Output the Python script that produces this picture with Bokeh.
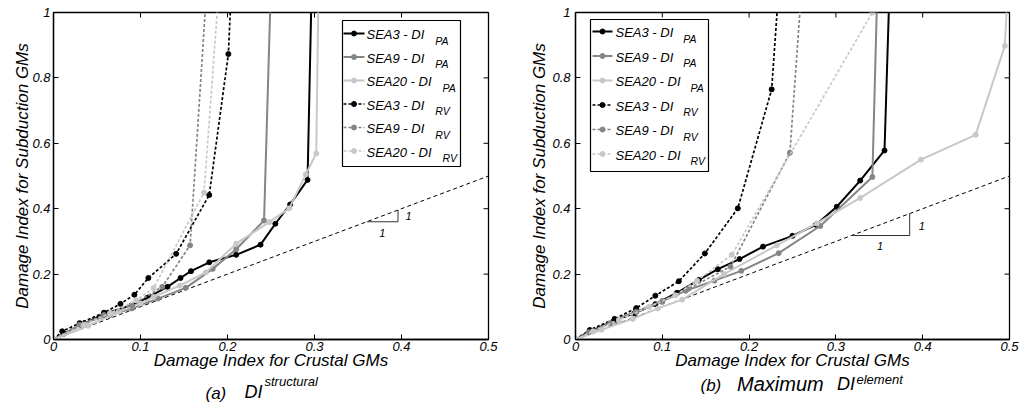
from bokeh.plotting import figure
from bokeh.layouts import row, column
from bokeh.models import Range1d, FixedTicker, Label
from bokeh.embed import file_html
from bokeh.resources import INLINE

# ---------------- data ----------------
x_ticks = [0, 0.1, 0.2, 0.3, 0.4, 0.5]
x_tick_labels = ["0", "0.1", "0.2", "0.3", "0.4", "0.5"]
y_ticks = [0, 0.2, 0.4, 0.6, 0.8, 1.0]
y_tick_labels = ["0", "0.2", "0.4", "0.6", "0.8", "1"]

ref_x = [0, 0.5]
ref_y = [0, 0.5]

# (a) DI structural
a_sea3_pa_x = [0, 0.012, 0.032, 0.058, 0.090, 0.108, 0.131, 0.146, 0.158, 0.179, 0.210, 0.238, 0.255, 0.272, 0.292, 0.2965]
a_sea3_pa_y = [0, 0.018, 0.045, 0.078, 0.105, 0.128, 0.161, 0.188, 0.209, 0.236, 0.259, 0.290, 0.354, 0.413, 0.488, 1.05]
a_sea9_pa_x = [0, 0.035, 0.065, 0.090, 0.120, 0.152, 0.183, 0.210, 0.242, 0.2495]
a_sea9_pa_y = [0, 0.050, 0.075, 0.095, 0.125, 0.158, 0.216, 0.276, 0.364, 1.05]
a_sea20_pa_x = [0, 0.040, 0.075, 0.100, 0.115, 0.145, 0.175, 0.210, 0.248, 0.271, 0.290, 0.302, 0.3045]
a_sea20_pa_y = [0, 0.042, 0.085, 0.110, 0.130, 0.165, 0.205, 0.293, 0.359, 0.401, 0.505, 0.569, 1.05]
a_sea3_rv_x = [0, 0.010, 0.030, 0.058, 0.077, 0.093, 0.109, 0.141, 0.179, 0.201, 0.204]
a_sea3_rv_y = [0, 0.025, 0.050, 0.082, 0.109, 0.137, 0.188, 0.262, 0.442, 0.873, 1.05]
a_sea9_rv_x = [0, 0.030, 0.058, 0.090, 0.125, 0.157, 0.1755]
a_sea9_rv_y = [0, 0.045, 0.075, 0.105, 0.161, 0.288, 1.05]
a_sea20_rv_x = [0, 0.035, 0.065, 0.095, 0.115, 0.173, 0.1895]
a_sea20_rv_y = [0, 0.045, 0.080, 0.120, 0.157, 0.449, 1.05]

# (b) Maximum DI element
b_sea3_pa_x = [0, 0.017, 0.045, 0.068, 0.092, 0.117, 0.142, 0.164, 0.189, 0.216, 0.250, 0.277, 0.301, 0.328, 0.356, 0.3615]
b_sea3_pa_y = [0, 0.025, 0.058, 0.080, 0.108, 0.143, 0.182, 0.215, 0.246, 0.284, 0.317, 0.351, 0.406, 0.486, 0.578, 1.05]
b_sea9_pa_x = [0, 0.020, 0.045, 0.070, 0.100, 0.127, 0.160, 0.191, 0.234, 0.282, 0.342, 0.3475]
b_sea9_pa_y = [0, 0.025, 0.060, 0.085, 0.118, 0.149, 0.180, 0.210, 0.264, 0.347, 0.497, 1.05]
b_sea20_pa_x = [0, 0.030, 0.066, 0.095, 0.123, 0.171, 0.232, 0.278, 0.328, 0.398, 0.461, 0.4946, 0.4975]
b_sea20_pa_y = [0, 0.030, 0.063, 0.095, 0.122, 0.200, 0.288, 0.355, 0.433, 0.550, 0.626, 0.898, 1.05]
b_sea3_rv_x = [0, 0.0165, 0.045, 0.070, 0.092, 0.119, 0.149, 0.187, 0.226, 0.2335]
b_sea3_rv_y = [0, 0.029, 0.063, 0.096, 0.134, 0.178, 0.263, 0.401, 0.765, 1.05]
b_sea9_rv_x = [0, 0.015, 0.040, 0.070, 0.100, 0.130, 0.1786, 0.247, 0.2598]
b_sea9_rv_y = [0, 0.022, 0.050, 0.085, 0.115, 0.155, 0.223, 0.571, 1.05]
b_sea20_rv_x = [0, 0.020, 0.050, 0.085, 0.115, 0.140, 0.180, 0.342]
b_sea20_rv_y = [0, 0.025, 0.060, 0.100, 0.135, 0.180, 0.259, 1.0]

series_names = ["SEA3 - DI", "SEA9 - DI", "SEA20 - DI", "SEA3 - DI", "SEA9 - DI", "SEA20 - DI"]
series_subs = ["PA", "PA", "PA", "RV", "RV", "RV"]

x_axis_title = "Damage Index for Crustal GMs"
y_axis_title = "Damage Index for Subduction GMs"

# ---------------- styles ----------------
FONT = "Liberation Sans"
BLACK, GRAY, LIGHT = "#000000", "#858585", "#c8c8c8"
colors = [BLACK, GRAY, LIGHT, BLACK, GRAY, LIGHT]
dashes = ["solid", "solid", "solid", "3 2", "3 2", "3 2"]
widths = [2.0, 2.0, 2.0, 1.7, 1.7, 1.7]

TOTAL_H = 404
MAIN_H = 372
CAP_H = TOTAL_H - MAIN_H
FRAME_TOP, FRAME_BOTTOM = 12, 339
FRAME_H = FRAME_BOTTOM - FRAME_TOP
TICK = 5


def make_fig(width, frame_left, frame_w, ystand, ylab_stand):
    p = figure(width=width, height=MAIN_H, output_backend="svg", toolbar_location=None,
               x_range=Range1d(0, 0.5), y_range=Range1d(0, 1),
               min_border_left=frame_left, min_border_right=width - frame_left - frame_w,
               min_border_top=FRAME_TOP, min_border_bottom=MAIN_H - FRAME_BOTTOM)
    p.grid.visible = False
    p.outline_line_color = "black"
    p.outline_line_width = 1.3
    p.background_fill_color = "white"
    p.border_fill_color = "white"
    for ax in (p.xaxis[0], p.yaxis[0]):
        ax.major_tick_in = TICK
        ax.major_tick_out = 0
        ax.minor_tick_line_color = None
        ax.axis_line_color = "black"
        ax.axis_line_width = 1.3
        ax.major_label_text_font = FONT
        ax.major_label_text_font_style = "italic"
        ax.major_label_text_font_size = "13px"
        ax.major_label_text_color = "black"
        ax.axis_label_text_font = FONT
        ax.axis_label_text_font_style = "italic"
        ax.axis_label_text_font_size = "17px"
        ax.axis_label_text_color = "black"
    p.xaxis[0].ticker = FixedTicker(ticks=x_ticks)
    p.xaxis[0].major_label_overrides = dict(zip(x_ticks, x_tick_labels))
    p.xaxis[0].major_label_standoff = 2
    p.xaxis[0].axis_label = x_axis_title
    p.xaxis[0].axis_label_standoff = -3
    p.yaxis[0].ticker = FixedTicker(ticks=y_ticks)
    p.yaxis[0].major_label_overrides = dict(zip(y_ticks, y_tick_labels))
    p.yaxis[0].major_label_standoff = ystand
    p.yaxis[0].axis_label = y_axis_title
    p.yaxis[0].axis_label_standoff = ylab_stand
    # inward ticks on the top and right sides of the box
    tx = TICK / FRAME_H
    ty = TICK / frame_w * 0.5
    p.segment(x0=x_ticks, y0=[1] * len(x_ticks), x1=x_ticks, y1=[1 - tx] * len(x_ticks),
              line_color="black", line_width=1)
    p.segment(x0=[0.5] * len(y_ticks), y0=y_ticks, x1=[0.5 - ty] * len(y_ticks), y1=y_ticks,
              line_color="black", line_width=1)
    return p


def build(width, frame_left, frame_w, ystand, ylab_stand, data, legend_box, legend_rows,
          legend_x, sub_gap, tri, tri_labels):
    p = make_fig(width, frame_left, frame_w, ystand, ylab_stand)

    def dx(cx):
        return (cx - frame_left) / frame_w * 0.5

    def dy(cy):
        return (FRAME_BOTTOM - cy) / FRAME_H

    # 1:1 reference line
    p.line(ref_x, ref_y, line_color="black", line_width=1, line_dash="4 3")
    a, b = tri
    p.line([a, b, b], [a, a, b], line_color="#333333", line_width=1)
    for (tx, ty) in tri_labels:
        p.add_layout(Label(x=tx, y=ty, text="1", text_font=FONT, text_font_style="italic",
                           text_font_size="11px", text_color="black",
                           text_align="center", text_baseline="middle"))

    for (xs, ys), c, d, w in zip(data, colors, dashes, widths):
        p.line(xs, ys, line_color=c, line_width=w, line_dash=d)
        p.scatter(xs, ys, size=5, fill_color=c, line_color=c)

    # legend
    bl, bt, br, bb = legend_box
    p.quad(left=[dx(bl)], right=[dx(br)], top=[dy(bt)], bottom=[dy(bb)],
           fill_color="white", line_color="black", line_width=1.2)
    lx1, lx2, tx0 = legend_x
    adv = {"S": .667, "E": .667, "A": .667, "3": .556, "9": .556, "2": .556, "0": .556,
           " ": .278, "-": .333, "D": .722, "I": .278}
    for i, (name, sub) in enumerate(zip(series_names, series_subs)):
        cy = legend_rows[i]
        c, d, w = colors[i], dashes[i], widths[i]
        p.line([dx(lx1), dx(lx2)], [dy(cy), dy(cy)], line_color=c, line_width=w, line_dash=d)
        p.scatter([dx((lx1 + lx2) / 2)], [dy(cy)], size=5, fill_color=c, line_color=c)
        p.add_layout(Label(x=dx(tx0), y=dy(cy + 1), text=name, text_font=FONT,
                           text_font_style="italic", text_font_size="13px", text_color="black",
                           text_baseline="middle", text_align="left"))
        wpx = sum(adv[ch] for ch in name) * 13
        p.add_layout(Label(x=dx(tx0 + wpx + sub_gap), y=dy(cy + 7), text=sub, text_font=FONT,
                           text_font_style="italic", text_font_size="10.5px", text_color="black",
                           text_baseline="middle", text_align="left"))
    return p


def caption_fig(width, frame_left, frame_w, items):
    # frame aligned with the plot above; coordinates = canvas pixels (x local, y page)
    c = figure(width=width, height=CAP_H, output_backend="svg", toolbar_location=None,
               x_range=Range1d(frame_left, frame_left + frame_w),
               y_range=Range1d(TOTAL_H, MAIN_H),
               x_axis_type=None, y_axis_type=None,
               min_border_left=frame_left, min_border_right=width - frame_left - frame_w,
               min_border_top=0, min_border_bottom=0)
    c.grid.visible = False
    c.outline_line_color = None
    c.background_fill_color = "white"
    c.border_fill_color = "white"
    for (cx, cy, txt, size) in items:
        c.add_layout(Label(x=cx, y=cy, text=txt, text_font=FONT, text_font_style="italic",
                           text_font_size=size, text_color="black",
                           text_align="left", text_baseline="middle"))
    return c


pa = build(510, 53, 435, 3, -3,
           [(a_sea3_pa_x, a_sea3_pa_y), (a_sea9_pa_x, a_sea9_pa_y), (a_sea20_pa_x, a_sea20_pa_y),
            (a_sea3_rv_x, a_sea3_rv_y), (a_sea9_rv_x, a_sea9_rv_y), (a_sea20_rv_x, a_sea20_rv_y)],
           legend_box=(342, 20, 460, 166),
           legend_rows=[33, 56.5, 80, 103.5, 127, 150.5],
           legend_x=(343, 364, 366), sub_gap=11,
           tri=(0.36, 0.396), tri_labels=[(0.408, 0.378), (0.378, 0.325)])

pb = build(511, 65, 434, 5, 0,
           [(b_sea3_pa_x, b_sea3_pa_y), (b_sea9_pa_x, b_sea9_pa_y), (b_sea20_pa_x, b_sea20_pa_y),
            (b_sea3_rv_x, b_sea3_rv_y), (b_sea9_rv_x, b_sea9_rv_y), (b_sea20_rv_x, b_sea20_rv_y)],
           legend_box=(590 - 510, 19, 708 - 510, 171),
           legend_rows=[31, 55.5, 80, 104.5, 129, 153.5],
           legend_x=(592 - 510, 612 - 510, 615 - 510), sub_gap=10,
           tri=(0.318, 0.385), tri_labels=[(0.399, 0.347), (0.351, 0.286)])

ca = caption_fig(510, 53, 435,
                 [(205, 393, "(a)", "17px"), (244, 391, "DI", "18px"),
                  (264, 381, "structural", "13px")])
cb = caption_fig(511, 65, 434,
                 [(190, 385, "(b)", "17px"), (226.5, 383, "Maximum", "20px"),
                  (326.5, 383, "DI", "18px"), (346, 379, "element", "13px")])

layout = row(column(pa, ca, spacing=0), column(pb, cb, spacing=0), spacing=0)
open("out.html", "w").write(file_html(layout, INLINE))
